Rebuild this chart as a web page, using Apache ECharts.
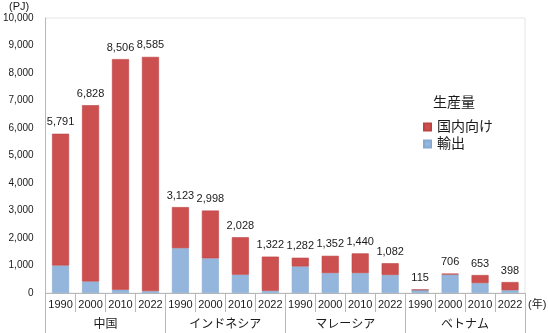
<!DOCTYPE html>
<html>
<head>
<meta charset="utf-8">
<script src="https://cdn.jsdelivr.net/npm/echarts@6/dist/echarts.min.js"></script>
<style>
  html, body { margin: 0; padding: 0; background: #fff; }
  #chart { width: 548px; height: 333px; }
</style>
</head>
<body>
<div id="chart"></div>
<script>
// Natural gas production (PJ), by country and year
const countries = ['中国', 'インドネシア', 'マレーシア', 'ベトナム'];
const years = ['1990', '2000', '2010', '2022'];
// Total production per bar (shown as the value label)
const totals = [5791, 6828, 8506, 8585, 3123, 2998, 2028, 1322, 1282, 1352, 1440, 1082, 115, 706, 653, 398];
// Exported share per bar
const exports = [1000, 420, 120, 70, 1630, 1260, 665, 80, 965, 725, 725, 655, 115, 670, 360, 100];
// Y-axis ticks
const yMax = 10000;
const yStep = 1000;

const categories = [];
countries.forEach(() => years.forEach(y => categories.push(y)));
const domestic = totals.map((t, i) => t - exports[i]);

const FONT = '"Liberation Sans", "Noto Sans CJK JP", sans-serif';
const AXIS = '#b8b8b8';
const TXT = '#1a1a1a';

const chart = echarts.init(document.getElementById('chart'), null, { renderer: 'canvas' });
chart.setOption({
  animation: false,
  textStyle: { fontFamily: FONT },
  grid: {
    left: 40, right: 23, top: 18, bottom: 40,
    show: true, borderColor: '#e6e6e6', borderWidth: 1, backgroundColor: 'transparent'
  },
  legend: {
    orient: 'vertical',
    left: 418, top: 115,
    itemWidth: 7, itemHeight: 7, itemGap: 3,
    icon: 'rect',
    data: ['国内向け', '輸出'],
    textStyle: { fontSize: 14, color: TXT, fontFamily: FONT, padding: [0, 0, 0, 1] }
  },
  xAxis: [
    {
      type: 'category',
      data: categories,
      position: 'bottom',
      axisLine: { show: true, lineStyle: { color: AXIS } },
      axisTick: { show: true, interval: 0, length: 19, lineStyle: { color: AXIS } },
      axisLabel: { interval: 0, margin: 6, fontSize: 11, color: TXT, fontFamily: FONT }
    },
    {
      type: 'category',
      data: countries,
      position: 'bottom',
      axisLine: { show: false },
      axisTick: { show: true, interval: 0, length: 40, lineStyle: { color: AXIS } },
      axisLabel: { interval: 0, margin: 26, fontSize: 12, color: TXT, fontFamily: FONT }
    }
  ],
  yAxis: {
    type: 'value',
    min: 0, max: yMax, interval: yStep,
    axisLine: { show: true, lineStyle: { color: AXIS } },
    axisTick: { show: false },
    splitLine: { show: false },
    axisLabel: {
      margin: 12, fontSize: 10, color: TXT, fontFamily: FONT,
      formatter: v => v.toLocaleString('en-US')
    }
  },
  series: [
    {
      name: '輸出',
      type: 'bar',
      stack: 'prod',
      xAxisIndex: 0,
      barWidth: 17,
      data: exports,
      itemStyle: { color: '#94b6dc', borderColor: '#86a9d2', borderWidth: 0.6 }
    },
    {
      name: '国内向け',
      type: 'bar',
      stack: 'prod',
      xAxisIndex: 0,
      barWidth: 17,
      data: domestic,
      itemStyle: { color: '#cd5050', borderColor: '#bd4242', borderWidth: 0.6 },
      label: {
        show: true, position: 'top', distance: 6,
        fontSize: 11, color: TXT, fontFamily: FONT,
        formatter: p => totals[p.dataIndex].toLocaleString('en-US')
      }
    }
  ],
  graphic: [
    { type: 'text', left: 9, top: 1, style: { text: '(PJ)', fontSize: 11, fill: TXT, fontFamily: FONT } },
    { type: 'text', left: 433, top: 96, style: { text: '生産量', fontSize: 14, fill: TXT, fontFamily: FONT } },
    { type: 'text', left: 528, top: 299, style: { text: '(年)', fontSize: 11, fill: TXT, fontFamily: FONT } }
  ]
});
</script>
</body>
</html>
